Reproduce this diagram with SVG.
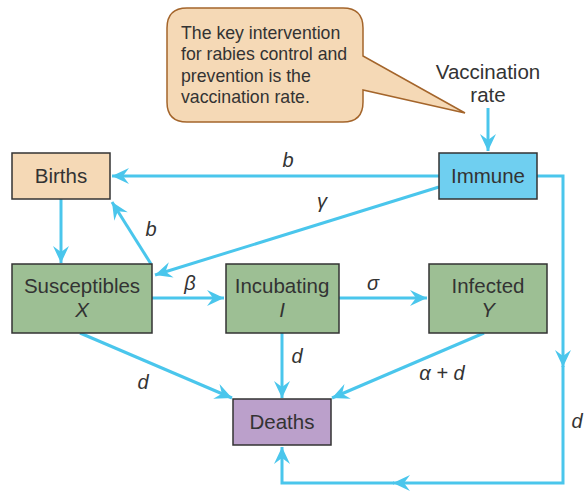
<svg xmlns="http://www.w3.org/2000/svg" width="584" height="492" viewBox="0 0 584 492">
  <style>
    .box { stroke: #333; stroke-width: 1.5; }
    .lbl { font-family: "Liberation Sans", Arial, sans-serif; font-size: 20.5px; fill: #333; text-anchor: middle; }
    .var { font-family: "Liberation Sans", Arial, sans-serif; font-size: 20.5px; font-style: italic; fill: #333; text-anchor: middle; }
    .rate { font-family: "Liberation Sans", Arial, sans-serif; font-size: 20px; font-style: italic; fill: #333; text-anchor: middle; }
    .note { font-family: "Liberation Sans", Arial, sans-serif; font-size: 17.7px; fill: #333; }
    .flow { fill: none; stroke: #4AC6EC; stroke-width: 3; }
  </style>
  <defs>
    <marker id="head" markerUnits="userSpaceOnUse" markerWidth="20" markerHeight="20" viewBox="-18 -9 20 18" refX="0" refY="0" orient="auto">
      <path d="M0,0 L-17,-8 L-11,0 L-17,8 Z" fill="#4AC6EC"/>
    </marker>
  </defs>

  <rect width="584" height="492" fill="#fff"/>

  <!-- speech bubble -->
  <g id="callout">
    <path d="M187,8 H343 Q363,8 363,28 V56 L465,113 L363,90 V102 Q363,122 343,122 H187 Q167,122 167,102 V28 Q167,8 187,8 Z" fill="#F5D9B6" stroke="#A4652B" stroke-width="1.5"/>
    <text class="note" x="181" y="38.5">The key intervention</text>
    <text class="note" x="181" y="60">for rabies control and</text>
    <text class="note" x="181" y="81.5">prevention is the</text>
    <text class="note" x="181" y="103">vaccination rate.</text>
  </g>

  <g id="vaccination-rate">
    <text class="lbl" x="488" y="79">Vaccination</text>
    <text class="lbl" x="488" y="102">rate</text>
  </g>

  <!-- connectors -->
  <g id="connectors">
    <line class="flow" x1="488" y1="108" x2="488" y2="151" marker-end="url(#head)"/>
    <line class="flow" x1="439" y1="176" x2="112" y2="176" marker-end="url(#head)"/>
    <line class="flow" x1="439" y1="187" x2="155" y2="275" marker-end="url(#head)"/>
    <line class="flow" x1="151" y1="264" x2="112" y2="202" marker-end="url(#head)"/>
    <line class="flow" x1="61" y1="199" x2="61" y2="263" marker-end="url(#head)"/>
    <line class="flow" x1="152" y1="298" x2="224" y2="298" marker-end="url(#head)"/>
    <line class="flow" x1="339" y1="298" x2="427" y2="298" marker-end="url(#head)"/>
    <line class="flow" x1="80" y1="333" x2="232" y2="398" marker-end="url(#head)"/>
    <line class="flow" x1="282" y1="333" x2="282" y2="398" marker-end="url(#head)"/>
    <line class="flow" x1="484" y1="333" x2="332" y2="398" marker-end="url(#head)"/>
    <path class="flow" d="M537,176 H563 V367" marker-end="url(#head)"/>
    <path class="flow" d="M563,366 V483 H393" marker-end="url(#head)"/>
    <path class="flow" d="M394,483 H282 V447" marker-end="url(#head)"/>

    <text class="rate" x="288" y="167">b</text>
    <text class="rate" x="151" y="236">b</text>
    <text class="rate" x="322" y="208">γ</text>
    <text class="rate" x="190" y="290">β</text>
    <text class="rate" x="373" y="290">σ</text>
    <text class="rate" x="143" y="389">d</text>
    <text class="rate" x="297" y="363">d</text>
    <text class="rate" x="442" y="380">α + d</text>
    <text class="rate" x="577" y="428">d</text>
  </g>

  <g id="births">
    <rect class="box" x="12" y="153" width="98" height="46" fill="#F5D9B6"/>
    <text class="lbl" x="61" y="183">Births</text>
  </g>

  <g id="immune">
    <rect class="box" x="439" y="153" width="98" height="46" fill="#6FCFF0"/>
    <text class="lbl" x="488" y="183">Immune</text>
  </g>

  <g id="susceptibles">
    <rect class="box" x="12" y="264" width="140" height="69" fill="#9DBF94"/>
    <text class="lbl" x="82" y="293">Susceptibles</text>
    <text class="var" x="82" y="317">X</text>
  </g>

  <g id="incubating">
    <rect class="box" x="226" y="264" width="113" height="69" fill="#9DBF94"/>
    <text class="lbl" x="282" y="293">Incubating</text>
    <text class="var" x="282" y="317">I</text>
  </g>

  <g id="infected">
    <rect class="box" x="429" y="264" width="118" height="69" fill="#9DBF94"/>
    <text class="lbl" x="488" y="293">Infected</text>
    <text class="var" x="488" y="317">Y</text>
  </g>

  <g id="deaths">
    <rect class="box" x="233" y="399" width="98" height="46" fill="#BBA0CB"/>
    <text class="lbl" x="282" y="429">Deaths</text>
  </g>
</svg>
